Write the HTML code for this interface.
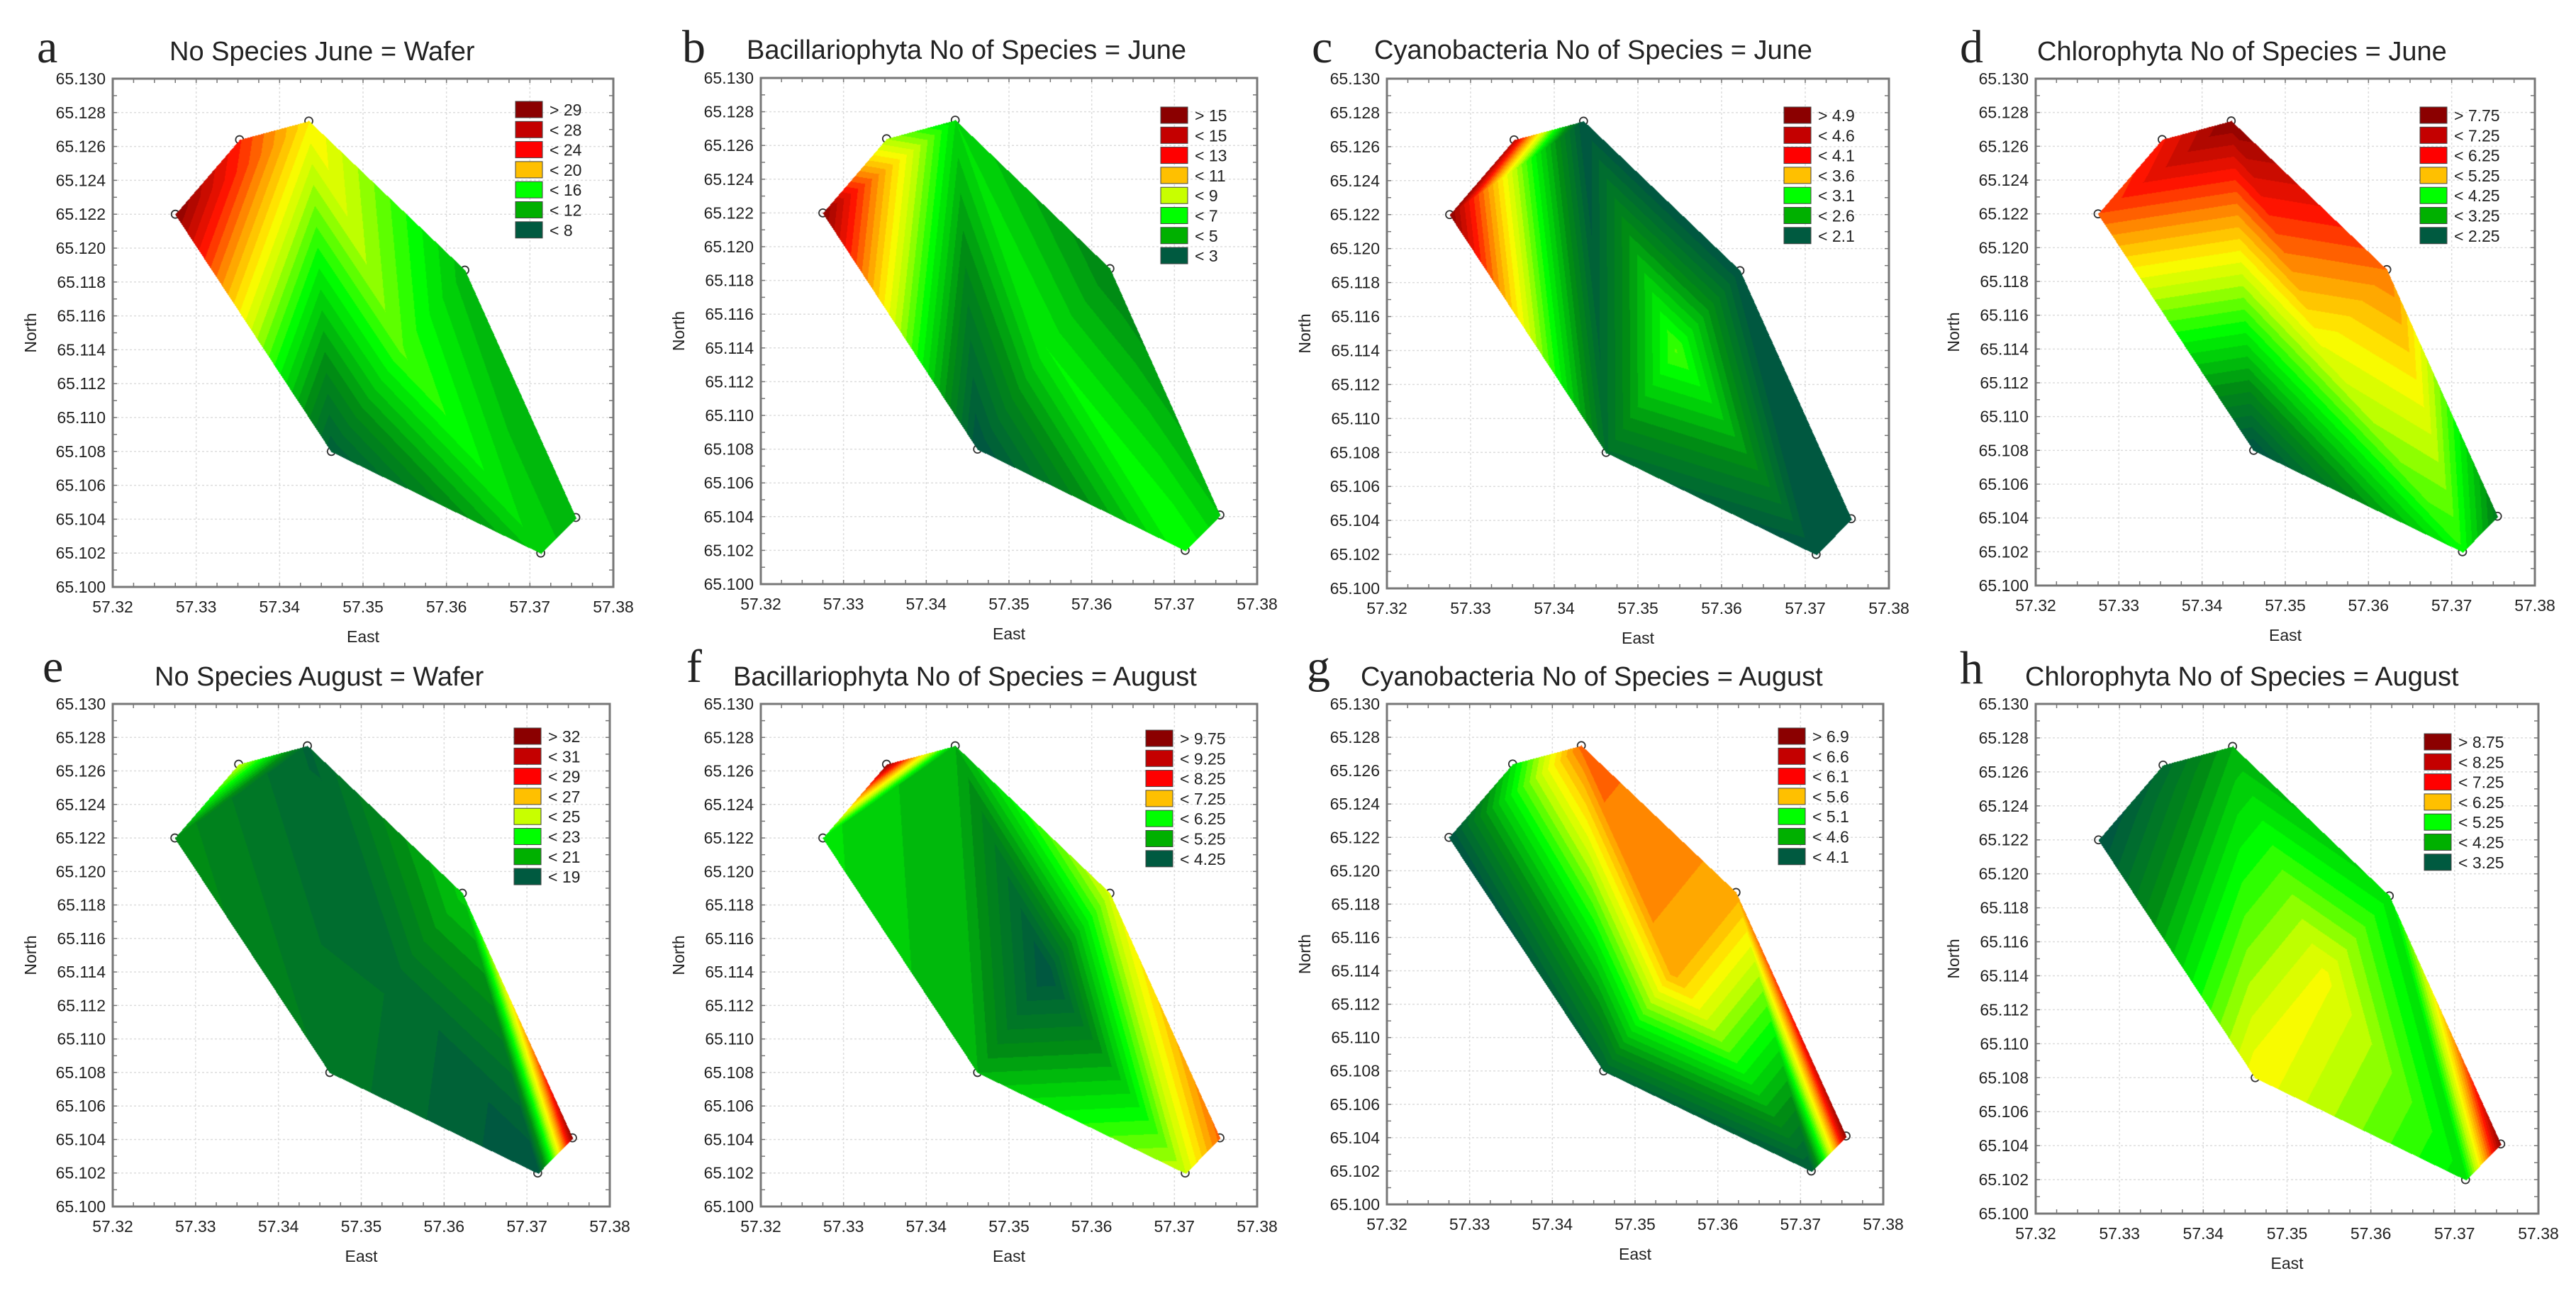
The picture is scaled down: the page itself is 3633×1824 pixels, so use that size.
<!DOCTYPE html>
<html><head><meta charset="utf-8">
<style>
html,body{margin:0;padding:0;background:#fff;}
#wrap{position:relative;width:3633px;height:1824px;overflow:hidden;background:#fff;}
canvas{position:absolute;}
svg{position:absolute;left:0;top:0;}
text{font-family:"Liberation Sans",sans-serif;fill:#222;}
</style></head>
<body>
<div id="wrap">
<svg id="svg" width="3633" height="1824"></svg>
</div>
<script>
// station coordinates (East, North)
const stationEast  = [57.3275, 57.3352, 57.3435, 57.3462, 57.3545, 57.3622, 57.3713, 57.3755];
const stationNorth = [65.1220, 65.1264, 65.1275, 65.1080, 65.1140, 65.1187, 65.1020, 65.1041];
const triangles = [[0,1,2],[0,2,3],[2,3,4],[2,4,5],[3,4,6],[4,5,6],[5,6,7]];
const xTicks = ["57.32","57.33","57.34","57.35","57.36","57.37","57.38"];
const yTicks = ["65.100","65.102","65.104","65.106","65.108","65.110","65.112","65.114","65.116","65.118","65.120","65.122","65.124","65.126","65.128","65.130"];
// panel values at stations
const valsA = [30, 26, 21, 8, 17, 13, 14, 13];
const valsB = [16, 9, 6.5, 2, 7, 4.5, 7.5, 6];
const valsC = [5.0, 4.8, 2.0, 2.3, 3.3, 2.0, 2.0, 2.0];
const valsD = [6.8, 7.2, 8.1, 2.1, 5.5, 6.6, 4.4, 3.0];
const valsE = [21, 26, 19, 20, 19.5, 22.5, 18, 33];
const valsF = [6.0, 10.0, 5.5, 5.5, 4.0, 7.3, 7.2, 8.6];
const valsG = [4.0, 5.0, 6.3, 4.2, 6.1, 6.1, 4.1, 7.0];
const valsH = [3.0, 3.5, 4.5, 6.6, 6.5, 5.0, 5.0, 9.0];
// legend labels
const legA = ["> 29","< 28","< 24","< 20","< 16","< 12","< 8"];
const legB = ["> 15","< 15","< 13","< 11","< 9","< 7","< 5","< 3"];
const legC = ["> 4.9","< 4.6","< 4.1","< 3.6","< 3.1","< 2.6","< 2.1"];
const legD = ["> 7.75","< 7.25","< 6.25","< 5.25","< 4.25","< 3.25","< 2.25"];
const legE = ["> 32","< 31","< 29","< 27","< 25","< 23","< 21","< 19"];
const legF = ["> 9.75","< 9.25","< 8.25","< 7.25","< 6.25","< 5.25","< 4.25"];
const legG = ["> 6.9","< 6.6","< 6.1","< 5.6","< 5.1","< 4.6","< 4.1"];
const legH = ["> 8.75","< 8.25","< 7.25","< 6.25","< 5.25","< 4.25","< 3.25"];

const panels = [
 {id:"a",title:"No Species June = Wafer",vals:valsA,leg:legA,min:7,max:30,L:159,R:865,T:111,B:828,tx:239,lx:52,ly:88,ty:85,legX:727,legY:143},
 {id:"b",title:"Bacillariophyta No of Species = June",vals:valsB,leg:legB,min:2,max:16,L:1073,R:1773,T:110,B:824,tx:1053,lx:962,ly:88,ty:83,legX:1637,legY:151},
 {id:"c",title:"Cyanobacteria No of Species = June",vals:valsC,leg:legC,min:2.0,max:5.0,L:1956,R:2664,T:111,B:830,tx:1938,lx:1850,ly:88,ty:83,legX:2516,legY:151},
 {id:"d",title:"Chlorophyta No of Species = June",vals:valsD,leg:legD,min:2.1,max:8.1,L:2871,R:3575,T:111,B:826,tx:2873,lx:2764,ly:88,ty:85,legX:3413,legY:151},
 {id:"e",title:"No Species August = Wafer",vals:valsE,leg:legE,min:18,max:33,L:159,R:860,T:993,B:1702,tx:218,lx:60,ly:962,ty:967,legX:725,legY:1027},
 {id:"f",title:"Bacillariophyta No of Species = August",vals:valsF,leg:legF,min:4,max:10,L:1073,R:1773,T:993,B:1702,tx:1034,lx:968,ly:962,ty:967,legX:1616,legY:1030},
 {id:"g",title:"Cyanobacteria No of Species = August",vals:valsG,leg:legG,min:4,max:7,L:1956,R:2656,T:993,B:1699,tx:1919,lx:1843,ly:962,ty:967,legX:2508,legY:1027},
 {id:"h",title:"Chlorophyta No of Species = August",vals:valsH,leg:legH,min:3,max:9,L:2871,R:3580,T:993,B:1712,tx:2856,lx:2764,ly:964,ty:967,legX:3419,legY:1035}
];

const stops = [[0,[0,88,64]],[0.18,[0,140,20]],[0.36,[0,255,0]],[0.5,[190,255,0]],[0.58,[255,250,0]],[0.7,[255,150,0]],[0.82,[255,20,0]],[1,[125,0,0]]];
function ramp(t){
  t=Math.max(0,Math.min(1,t));
  for(let i=1;i<stops.length;i++){
    if(t<=stops[i][0]){const a=stops[i-1],b=stops[i];const f=(t-a[0])/(b[0]-a[0]);
      return [0,1,2].map(k=>Math.round(a[1][k]+(b[1][k]-a[1][k])*f));}
  }
  return stops[stops.length-1][1];
}
const legColors=["#8b0000","#c40000","#ff0000","#ffc000","#c8ff00","#00ff00","#00b000","#005a40"];
const NS="http://www.w3.org/2000/svg";
const svg=document.getElementById('svg');
function mk(tag,attrs,parent){const e=document.createElementNS(NS,tag);for(const k in attrs)e.setAttribute(k,attrs[k]);(parent||svg).appendChild(e);return e;}

panels.forEach(p=>{
  const W=p.R-p.L,H=p.B-p.T;
  const sx=e=>p.L+(e-57.32)/0.06*W;
  const sy=n=>p.B-(n-65.100)/0.030*H;
  const g=mk('g',{});
  
  
  xTicks.forEach(t=>{const x=sx(+t);const l=mk('line',{x1:x,x2:x,y1:p.T,y2:p.B,stroke:'#ddd','stroke-width':1.5,'stroke-dasharray':'3,3'},g);
    });
  yTicks.forEach(t=>{const y=sy(+t);const l=mk('line',{x1:p.L,x2:p.R,y1:y,y2:y,stroke:'#ddd','stroke-width':1.5,'stroke-dasharray':'3,3'},g);
    });
  const cv=document.createElement('canvas');cv.width=W;cv.height=H;cv.style.left=p.L+'px';cv.style.top=p.T+'px';
  
  
  document.getElementById('wrap').insertBefore(cv,svg.nextSibling);
  const ctx=cv.getContext('2d');const img=ctx.createImageData(W,H);
  const px=stationEast.map(e=>sx(e)-p.L),py=stationNorth.map(n=>sy(n)-p.T);
  const levels=28;
  triangles.forEach(tr=>{
    const [i,j,k]=tr;
    const x0=px[i],y0=py[i],x1=px[j],y1=py[j],x2=px[k],y2=py[k];
    const d=(y1-y2)*(x0-x2)+(x2-x1)*(y0-y2);
    const minx=Math.max(0,Math.floor(Math.min(x0,x1,x2))),maxx=Math.min(W-1,Math.ceil(Math.max(x0,x1,x2)));
    const miny=Math.max(0,Math.floor(Math.min(y0,y1,y2))),maxy=Math.min(H-1,Math.ceil(Math.max(y0,y1,y2)));
    for(let y=miny;y<=maxy;y++)for(let x=minx;x<=maxx;x++){
      const a=((y1-y2)*(x-x2)+(x2-x1)*(y-y2))/d;
      const b=((y2-y0)*(x-x2)+(x0-x2)*(y-y2))/d;
      const c=1-a-b;
      if(a<-0.002||b<-0.002||c<-0.002)continue;
      const v=a*p.vals[i]+b*p.vals[j]+c*p.vals[k];
      let t=(v-p.min)/(p.max-p.min);
      t=Math.floor(t*levels)/levels;
      const col=ramp(t);const o=(y*W+x)*4;
      img.data[o]=col[0];img.data[o+1]=col[1];img.data[o+2]=col[2];img.data[o+3]=255;
    }
  });
  ctx.putImageData(img,0,0);
  const fr=mk('rect',{x:p.L,y:p.T,width:W,height:H,fill:'none',stroke:'#777','stroke-width':3});
  
  for(let i=0;i<=30;i++){const y=p.B-i*H/30;const m=mk('line',{x1:p.L,x2:p.L+6,y1:y,y2:y,stroke:'#777','stroke-width':1.5});
    const m2=mk('line',{x1:p.R-6,x2:p.R,y1:y,y2:y,stroke:'#777','stroke-width':1.5});}
  for(let i=0;i<=24;i++){const x=p.L+i*W/24;const m=mk('line',{x1:x,x2:x,y1:p.B-6,y2:p.B,stroke:'#777','stroke-width':1.5});
    const m2=mk('line',{x1:x,x2:x,y1:p.T,y2:p.T+6,stroke:'#777','stroke-width':1.5});}
  xTicks.forEach(t=>{const tx=mk('text',{x:sx(+t),y:p.B+36,'font-size':23,'text-anchor':'middle'});tx.textContent=t;
    });
  yTicks.forEach(t=>{const tx=mk('text',{x:p.L-10,y:sy(+t)+8,'font-size':23,'text-anchor':'end'});tx.textContent=t;
    });
  const xt=mk('text',{x:(p.L+p.R)/2,y:p.B+78,'font-size':23,'text-anchor':'middle'});xt.textContent='East';
  
  const yx=p.L-108,yy=(p.T+p.B)/2;
  const yt=mk('text',{x:yx,y:yy,'font-size':23,'text-anchor':'middle',transform:`rotate(-90 ${yx} ${yy})`});yt.textContent='North';
  
  const ti=mk('text',{x:p.tx,y:p.ty,'font-size':38});ti.textContent=p.title;
  
  const le=mk('text',{x:p.lx,y:p.ly,'font-size':66,style:'font-family:"Liberation Serif",serif'});le.textContent=p.id;
  
  stationEast.forEach((e,i)=>{const c=mk('circle',{cx:sx(e),cy:sy(stationNorth[i]),r:5.5,fill:'none',stroke:'#333','stroke-width':1.8});
    });
  const n=p.leg.length;
  const cols = n===8?legColors:[legColors[0],legColors[1],legColors[2],legColors[3],legColors[5],legColors[6],legColors[7]];
  p.leg.forEach((lab,i)=>{
    const y=p.legY+i*28.3;
    const r=mk('rect',{x:p.legX,y:y,width:38,height:23,fill:cols[i],stroke:'#444','stroke-width':1});
    
    const t=mk('text',{x:p.legX+48,y:y+20,'font-size':23});t.textContent=lab;
    
  });
});
</script>
</body></html>
